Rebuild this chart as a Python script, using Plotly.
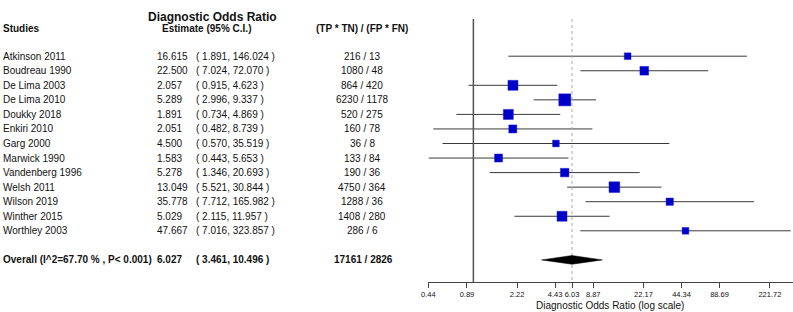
import math
import plotly.graph_objects as go

# ---------------- data ----------------
studies = ["Atkinson 2011", "Boudreau 1990", "De Lima 2003", "De Lima 2010", "Doukky 2018",
           "Enkiri 2010", "Garg 2000", "Marwick 1990", "Vandenberg 1996", "Welsh 2011",
           "Wilson 2019", "Winther 2015", "Worthley 2003"]
estimate = [16.615, 22.500, 2.057, 5.289, 1.891, 2.051, 4.500, 1.583, 5.278, 13.049, 35.778, 5.029, 47.667]
ci_low = [1.891, 7.024, 0.915, 2.996, 0.734, 0.482, 0.570, 0.443, 1.346, 5.521, 7.712, 2.115, 7.016]
ci_high = [146.024, 72.070, 4.623, 9.337, 4.869, 8.739, 35.519, 5.653, 20.693, 30.844, 165.982, 11.957, 323.857]
tp_tn = [216, 1080, 864, 6230, 520, 160, 36, 133, 190, 4750, 1288, 1408, 286]
fp_fn = [13, 48, 420, 1178, 275, 78, 8, 84, 36, 364, 36, 280, 6]
box_size = [6.7, 8.7, 10, 12, 10, 8, 6.7, 8, 8.5, 10.7, 7.3, 10, 6.7]

overall_label = "Overall (I^2=67.70 % , P< 0.001)"
overall_est = 6.027
overall_low = 3.461
overall_high = 10.496
overall_tp_tn = 17161
overall_fp_fn = 2826

tick_vals = [0.44, 0.89, 2.22, 4.43, 6.03, 8.87, 22.17, 44.34, 88.69, 221.72]
tick_text = ["0.44", "0.89", "2.22", "4.43", "6.03", "8.87", "22.17", "44.34", "88.69", "221.72"]
null_value = 1.0

# ---------------- layout helpers ----------------
W, H = 793, 312
FONT = "Liberation Sans, Arial, sans-serif"
TXT = "#111111"
ROW0_PX, ROW_STEP = 56.2, 14.55
AXIS_PX = 282.3
X0_PX, PX_PER_DEC = 428.3, 126.4


def row_of_px(py):
    return (py - ROW0_PX) / ROW_STEP


def px_x(px):
    return px / W


n = len(studies)
rows = list(range(n))
overall_row = n + 1

y_bottom = row_of_px(AXIS_PX)
y_top = row_of_px(0)
line_top = row_of_px(19)

x_min_log = math.log10(tick_vals[0])
x_max_log = x_min_log + (W - X0_PX) / PX_PER_DEC

fig = go.Figure()

# confidence interval lines
cx, cy = [], []
for i in rows:
    cx += [ci_low[i], ci_high[i], None]
    cy += [i, i, None]
fig.add_trace(go.Scatter(x=cx, y=cy, mode="lines", line=dict(color="#3a3a3a", width=1),
                         hoverinfo="skip", showlegend=False))

# null line
fig.add_trace(go.Scatter(x=[null_value, null_value], y=[line_top, y_bottom], mode="lines",
                         line=dict(color="#555555", width=1.5), hoverinfo="skip", showlegend=False))
# overall dashed line
fig.add_trace(go.Scatter(x=[overall_est, overall_est], y=[line_top, y_bottom], mode="lines",
                         line=dict(color="#a8a8a8", width=1, dash="3px,3px"),
                         hoverinfo="skip", showlegend=False))

# boxes
fig.add_trace(go.Scatter(x=estimate, y=rows, mode="markers",
                         marker=dict(symbol="square", size=box_size, color="#0000c8", opacity=1,
                                     line=dict(color="#1a1ad0", width=0.5)),
                         hoverinfo="skip", showlegend=False))

# diamond
dh = 0.3
fig.add_trace(go.Scatter(x=[overall_low, overall_est, overall_high, overall_est, overall_low],
                         y=[overall_row, overall_row - dh, overall_row, overall_row + dh, overall_row],
                         mode="lines", fill="toself", fillcolor="#000000",
                         line=dict(color="#000000", width=0.5),
                         hoverinfo="skip", showlegend=False))

ann = []


def add_text(text, x_px, row, anchor="left", size=10, bold=False):
    if bold:
        text = "<b>" + text + "</b>"
    ann.append(dict(text=text, x=px_x(x_px), y=row, xref="paper", yref="y",
                    xanchor=anchor, yanchor="middle", showarrow=False,
                    font=dict(family=FONT, size=size, color=TXT)))


# title & headers
add_text("Diagnostic Odds Ratio", 212, row_of_px(17), anchor="center", size=12, bold=True)
add_text("Studies", 0.5, row_of_px(28), bold=True)
add_text("Estimate (95% C.I.)", 207, row_of_px(28), anchor="center", bold=True)
add_text("(TP * TN) / (FP * FN)", 361.5, row_of_px(28), anchor="center", bold=True)

for i in rows:
    add_text(studies[i], 0.5, i)
    add_text(f"{estimate[i]:.3f}", 154.5, i)
    add_text(f"( {ci_low[i]:.3f}, {ci_high[i]:.3f} )", 193.5, i)
    add_text(f"{tp_tn[i]} / {fp_fn[i]}", 362, i, anchor="center")

add_text(overall_label, 0.5, overall_row, bold=True)
add_text(f"{overall_est:.3f}", 154.5, overall_row, bold=True)
add_text(f"( {overall_low:.3f}, {overall_high:.3f} )", 193.5, overall_row, bold=True)
add_text(f"{overall_tp_tn} / {overall_fp_fn}", 363.5, overall_row, anchor="center", bold=True)

# axis title
ann.append(dict(text="Diagnostic Odds Ratio (log scale)", x=px_x(610), y=1 - 305 / H,
                xref="paper", yref="paper", xanchor="center", yanchor="middle", showarrow=False,
                font=dict(family=FONT, size=10, color=TXT)))

fig.update_layout(
    template="none",
    width=W, height=H,
    margin=dict(l=0, r=0, t=0, b=0, pad=0),
    paper_bgcolor="white", plot_bgcolor="white",
    showlegend=False,
    annotations=ann,
    xaxis=dict(type="log", domain=[X0_PX / W, 1], range=[x_min_log, x_max_log],
               tickvals=tick_vals, ticktext=tick_text, ticks="outside", ticklen=5, tickangle=0,
               tickcolor="#444444", tickwidth=1, showline=True, linecolor="#444444", linewidth=1,
               showgrid=False, zeroline=False, automargin=False,
               tickfont=dict(family=FONT, size=7.5, color=TXT), anchor="y"),
    yaxis=dict(domain=[1 - AXIS_PX / H, 1], range=[y_bottom, y_top], visible=False,
               showgrid=False, zeroline=False, automargin=False),
)

fig.write_html("out.html", config={"displayModeBar": False},
               post_script="document.body.style.margin='0';document.body.style.padding='0';")
